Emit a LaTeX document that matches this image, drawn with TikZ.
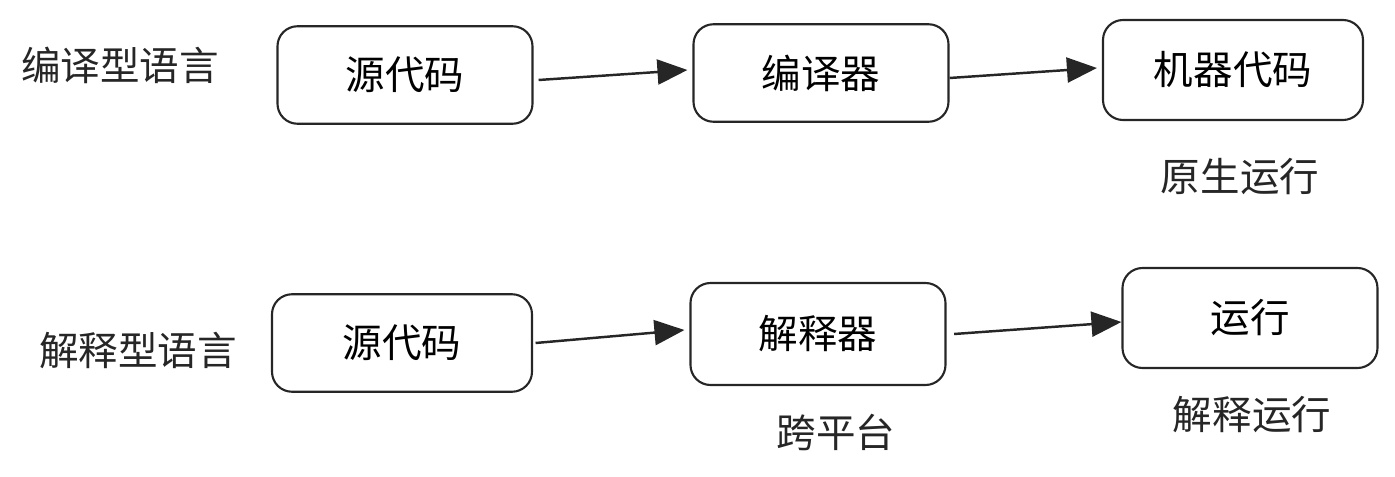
\documentclass[tikz,border=0pt]{standalone}
\usepackage{fontspec}
\newfontfamily\cjk{Noto Sans CJK SC}
\usetikzlibrary{arrows.meta, positioning}

\begin{document}
\begin{tikzpicture}[
    box/.style={rectangle, rounded corners=0.4cm, minimum width=5.1cm, minimum height=1.95cm, text centered, draw=black!85, line width=1.2pt, font=\cjk\fontsize{22.5}{26}\selectfont},
    label/.style={font=\cjk\fontsize{22.5}{26}\selectfont, text=black!85},
    arrow/.style={line width=1.4pt, draw=black!85, -{Triangle[length=0.6cm, width=0.5cm]}}
]
\useasboundingbox (0,0) rectangle (27.9,9.52);

% compiled language
\node (lang1) [label] at (2.40,8.22) {编译型语言};
\node (src1) [box] at (8.10,8.02) {源代码};
\node (comp) [box] at (16.42,8.06) {编译器};
\node (mach) [box, minimum width=5.2cm, minimum height=2cm] at (24.66,8.12) {机器代码};
\node (native) [label] at (24.80,5.98) {原生运行};

% interpreted language
\node (lang2) [label] at (2.76,2.52) {解释型语言};
\node (src2) [box, minimum width=5.2cm] at (8.04,2.66) {源代码};
\node (interp) [box, minimum height=2.04cm] at (16.36,2.84) {解释器};
\node (run) [box, minimum height=2cm] at (25.00,3.16) {运行};
\node (cross) [label] at (16.72,0.88) {跨平台};
\node (irun) [label] at (25.04,1.22) {解释运行};

\draw [arrow] ([xshift=0.1cm, yshift=-0.1cm]src1.east) -- ([xshift=-0.1cm, yshift=0.06cm]comp.west);
\draw [arrow] ([yshift=-0.1cm]comp.east) -- ([xshift=-0.1cm, yshift=0.04cm]mach.west);
\draw [arrow] ([xshift=0.05cm]src2.east) -- ([xshift=-0.1cm, yshift=0.08cm]interp.west);
\draw [arrow] ([xshift=0.15cm]interp.east) -- ([yshift=-0.08cm]run.west);

\end{tikzpicture}
\end{document}
